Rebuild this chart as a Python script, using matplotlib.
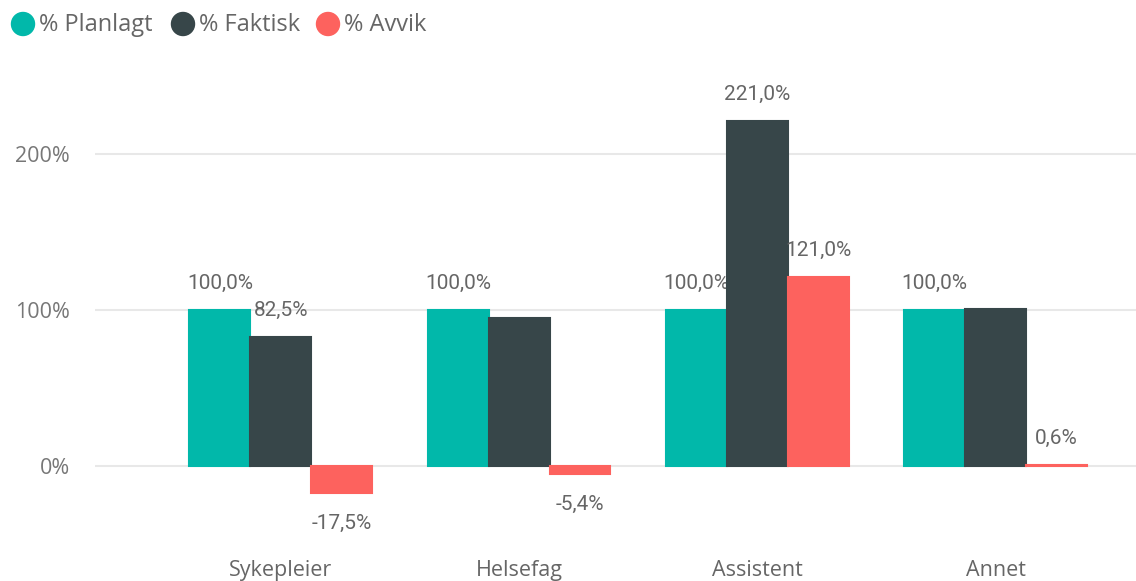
import matplotlib
matplotlib.use("Agg")
import matplotlib.pyplot as plt
from matplotlib.patches import Circle
import numpy as np

categories = ["Sykepleier", "Helsefag", "Assistent", "Annet"]
planlagt = [100.0, 100.0, 100.0, 100.0]
faktisk = [82.5, 94.6, 221.0, 100.6]
avvik = [-17.5, -5.4, 121.0, 0.6]
show_planlagt = [True, True, True, True]
show_faktisk = [True, False, True, False]
show_avvik = [True, True, True, True]
series_names = ["% Planlagt", "% Faktisk", "% Avvik"]
yticks = [0, 100, 200]
ytick_labels = ["0%", "100%", "200%"]

colors = ["#01B8AA", "#374649", "#FD625E"]
W, H = 1136, 581
fig = plt.figure(figsize=(W / 100, H / 100), dpi=100)
ax_l, ax_r, ax_t, ax_b = 95, 1136, 60, 545
ax = fig.add_axes([ax_l / W, 1 - ax_b / H, (ax_r - ax_l) / W, (ax_b - ax_t) / H])

x = np.arange(len(categories))
bw = 0.256
series = [planlagt, faktisk, avvik]
shows = [show_planlagt, show_faktisk, show_avvik]
label_font = dict(family=["Roboto", "DejaVu Sans"], fontsize=15, color="#666666")
for i, (vals, show) in enumerate(zip(series, shows)):
    xs = x + (i - 1) * bw
    ax.bar(xs, vals, width=bw, color=colors[i], edgecolor=colors[i],
           linewidth=1.5, zorder=3)
    for xi, v, s in zip(xs, vals, show):
        if not s:
            continue
        txt = f"{v:.1f}".replace(".", ",") + "%"
        off = 27 if v >= 0 else -30
        ax.annotate(txt, (xi, v), xytext=(0, off), textcoords="offset pixels",
                    ha="center", va="center", **label_font)

ax.set_xlim(-0.78, 3.59)
ax.set_ylim(-50.6, 260.3)
ax.set_yticks(yticks)
ax.set_yticklabels(ytick_labels)
ax.set_xticks(x)
ax.set_xticklabels(categories)
ax.grid(axis="y", color="#E8E8E8", linewidth=1.5, zorder=0)
for sp in ax.spines.values():
    sp.set_visible(False)
ax.tick_params(axis="y", length=0, pad=18, labelsize=15.5, labelcolor="#777777")
ax.tick_params(axis="x", length=0, pad=11, labelsize=15.5, labelcolor="#666666")
for t in ax.get_yticklabels() + ax.get_xticklabels():
    t.set_fontfamily(["Open Sans", "DejaVu Sans"])

# legend drawn in figure pixel coordinates
leg_ax = fig.add_axes([0, 0, 1, 1], facecolor="none")
leg_ax.set_xlim(0, W)
leg_ax.set_ylim(H, 0)
leg_ax.axis("off")
circle_x = [23, 183, 328]
for cx, c, name in zip(circle_x, colors, series_names):
    leg_ax.add_patch(Circle((cx, 24), 11.5, color=c))
    leg_ax.text(cx + 16, 25, name, ha="left", va="center", fontsize=17,
                color="#666666", family=["Open Sans", "DejaVu Sans"])

fig.savefig("out.png", dpi=100)
